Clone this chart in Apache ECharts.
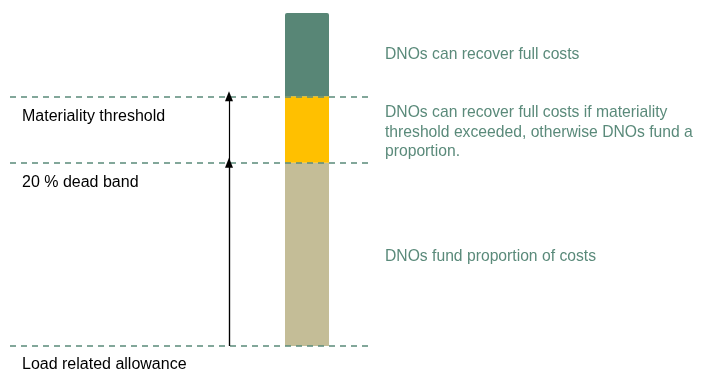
<!DOCTYPE html>
<html><head><meta charset="utf-8">
<script src="https://cdn.jsdelivr.net/npm/echarts@6/dist/echarts.min.js"></script>
<style>html,body{margin:0;padding:0;background:#fff}#c{width:702px;height:369px}</style>
</head><body><div id="c"></div>
<script>
// Data
const category = ['Allowance'];
const segmentNames = ['Dead band', 'Materiality threshold band', 'Full recovery'];
const segmentValues = [55, 20, 25]; // share of the bar height
const segmentLabels = [
  'DNOs fund proportion of costs',
  'DNOs can recover full costs if materiality\nthreshold exceeded, otherwise DNOs fund a\nproportion.',
  'DNOs can recover full costs'
];
const thresholdLevels = [75, 55, 0];
const thresholdLabels = ['Materiality threshold', '20 % dead band', 'Load related allowance'];
const arrowX = 219;
const arrowTops = [75, 55];

const teal = '#5a8a7a';
const colors = ['#c4bd97', '#ffc000', '#588676'];
const font = 'Liberation Sans';
const labelShift = [2, 3, 0];
const leftLabelGap = [12, 12, 10.5];

const chart = echarts.init(document.getElementById('c'), null, {renderer: 'canvas'});
const gTop = 13, gBottom = 23;

const barSeries = segmentValues.map((v, i) => ({
  type: 'bar', name: segmentNames[i], stack: 'total', xAxisIndex: 1, yAxisIndex: 1,
  data: [v], barWidth: '100%',
  itemStyle: {color: colors[i], borderRadius: i === 2 ? [2, 2, 0, 0] : 0},
  label: {show: true, position: 'right', distance: 56, offset: [0, labelShift[i]], color: teal,
          fontFamily: font, fontSize: 15.7, lineHeight: 19.5, align: 'left', formatter: segmentLabels[i]},
  silent: true
}));

const lineData = thresholdLevels.map((y, i) => ({
  yAxis: y,
  label: {show: true, position: 'insideStartBottom', formatter: thresholdLabels[i], color: '#000',
          fontFamily: font, fontSize: 16, distance: [12, leftLabelGap[i]], padding: 0},
}));

const arrowData = arrowTops.map(t => [
  {coord: [arrowX, 0], symbol: 'none'},
  {coord: [arrowX, t], symbol: 'triangle', symbolSize: [8, 10]}
]);

chart.setOption({
  animation: false,
  grid: [
    {left: 10, width: 360, top: gTop, bottom: gBottom},
    {left: 285, width: 44, top: gTop, bottom: gBottom}
  ],
  xAxis: [
    {type: 'value', gridIndex: 0, min: 0, max: 360, show: false},
    {type: 'category', gridIndex: 1, data: category, show: false}
  ],
  yAxis: [
    {type: 'value', gridIndex: 0, min: 0, max: 100, show: false},
    {type: 'value', gridIndex: 1, min: 0, max: 100, show: false}
  ],
  series: [
    ...barSeries,
    {
      type: 'line', xAxisIndex: 0, yAxisIndex: 0, data: [], silent: true,
      markLine: {
        silent: true, symbol: 'none', animation: false,
        lineStyle: {color: teal, type: [6, 5], width: 1.5},
        data: lineData
      }
    },
    {
      type: 'line', xAxisIndex: 0, yAxisIndex: 0, data: [], silent: true,
      markLine: {
        silent: true, animation: false,
        lineStyle: {color: '#000', type: 'solid', width: 1.2},
        label: {show: false},
        data: arrowData
      }
    }
  ]
});
</script></body></html>
